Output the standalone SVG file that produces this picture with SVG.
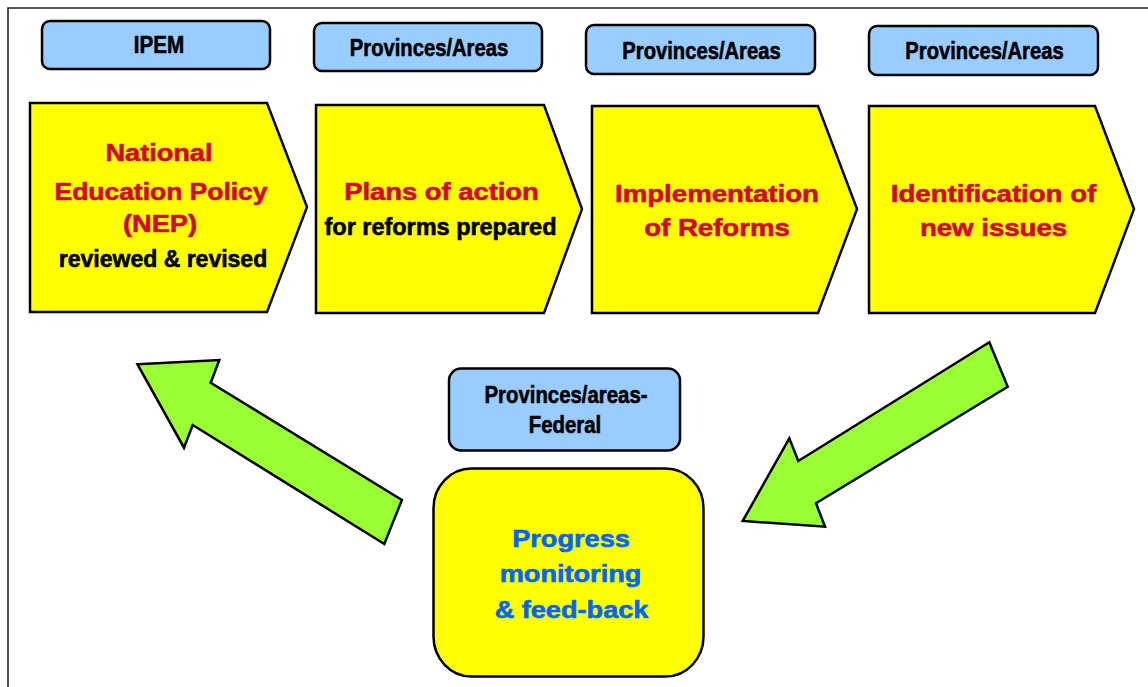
<svg xmlns="http://www.w3.org/2000/svg" width="1148" height="687" viewBox="0 0 1148 687">
<style>
  text { font-family: "Liberation Sans", Arial, sans-serif; font-weight: bold; text-anchor: middle; stroke-width: 0.6; stroke-linejoin: round; }
  .lbl { fill: #99CCFF; stroke: #000; stroke-width: 2.5; }
  .chev { fill: #FFFF00; stroke: #000; stroke-width: 2.5; stroke-linejoin: miter; }
  .mon { fill: #FFFF00; stroke: #000; stroke-width: 2.5; }
  .arrow { fill: #99FF33; stroke: #000; stroke-width: 2.5; stroke-linejoin: miter; }
  .lt { font-size: 23.5px; fill: #000; stroke: #000; }
  .red { font-size: 23px; fill: #D4062C; stroke: #D4062C; }
  .blk { font-size: 23px; fill: #000; stroke: #000; }
  .blue { font-size: 23px; fill: #0066FF; stroke: #0066FF; }
</style>
<rect width="1148" height="687" fill="#FFFFFF"/>
<path d="M8,687 V8 H1148" fill="none" stroke="#222" stroke-width="1.6"/>

<g id="label-ipem">
  <rect class="lbl" x="42" y="21" width="228" height="48" rx="8"/>
  <text class="lt" transform="translate(159 53.3) scale(0.88 1)">IPEM</text>
</g>
<g id="label-prov1">
  <rect class="lbl" x="314" y="23" width="228" height="48" rx="8"/>
  <text class="lt" transform="translate(429 55.5) scale(0.86 1)">Provinces/Areas</text>
</g>
<g id="label-prov2">
  <rect class="lbl" x="586" y="25" width="229" height="49" rx="8"/>
  <text class="lt" transform="translate(701.5 59) scale(0.86 1)">Provinces/Areas</text>
</g>
<g id="label-prov3">
  <rect class="lbl" x="869" y="26" width="229" height="49" rx="8"/>
  <text class="lt" transform="translate(984.5 59) scale(0.86 1)">Provinces/Areas</text>
</g>

<g id="step-nep">
  <polygon class="chev" points="30,103 267,103 307,207 267,312 30,312"/>
  <text class="red" transform="translate(159 161) scale(1.18 1)">National</text>
  <text class="red" transform="translate(161 199.5) scale(1.15 1)">Education Policy</text>
  <text class="red" transform="translate(160 232) scale(1.18 1)">(NEP)</text>
  <text class="blk" transform="translate(163 267)">reviewed &amp; revised</text>
</g>
<g id="step-plans">
  <polygon class="chev" points="316,105 544,105 582,209 544,313 316,313"/>
  <text class="red" transform="translate(441.5 200) scale(1.19 1)">Plans of action</text>
  <text class="blk" transform="translate(440.5 234.5) scale(1.02 1)">for reforms prepared</text>
</g>
<g id="step-impl">
  <polygon class="chev" points="592,106 818,106 857,209 818,313 592,313"/>
  <text class="red" transform="translate(717 201.5) scale(1.2 1)">Implementation</text>
  <text class="red" transform="translate(717 236) scale(1.2 1)">of Reforms</text>
</g>
<g id="step-issues">
  <polygon class="chev" points="869,106 1095,106 1134,209 1095,313 869,313"/>
  <text class="red" transform="translate(993.5 201.5) scale(1.2 1)">Identification of</text>
  <text class="red" transform="translate(993.5 235.5) scale(1.2 1)">new issues</text>
</g>

<g id="label-federal">
  <rect class="lbl" x="449" y="368.5" width="231" height="82" rx="12"/>
  <text class="lt" transform="translate(566 403.3) scale(0.867 1)">Provinces/areas-</text>
  <text class="lt" transform="translate(565 432.7) scale(0.867 1)">Federal</text>
</g>
<g id="step-monitoring">
  <rect class="mon" x="433.5" y="468.5" width="270" height="208" rx="38" ry="40"/>
  <text class="blue" transform="translate(571 546.7) scale(1.18 1)">Progress</text>
  <text class="blue" transform="translate(570.5 581.7) scale(1.18 1)">monitoring</text>
  <text class="blue" transform="translate(571.5 618) scale(1.18 1)">&amp; feed-back</text>
</g>

<g id="connectors">
  <polygon class="arrow" points="137.5,364.3 219.3,360 210.7,382.7 401.9,500 384.3,544 192.7,425 184,447.7"/>
  <polygon class="arrow" points="989.3,342.3 1007.7,386.7 816,503.3 825,526.7 742.7,521 789.3,438.3 798.3,461"/>
</g>
</svg>
